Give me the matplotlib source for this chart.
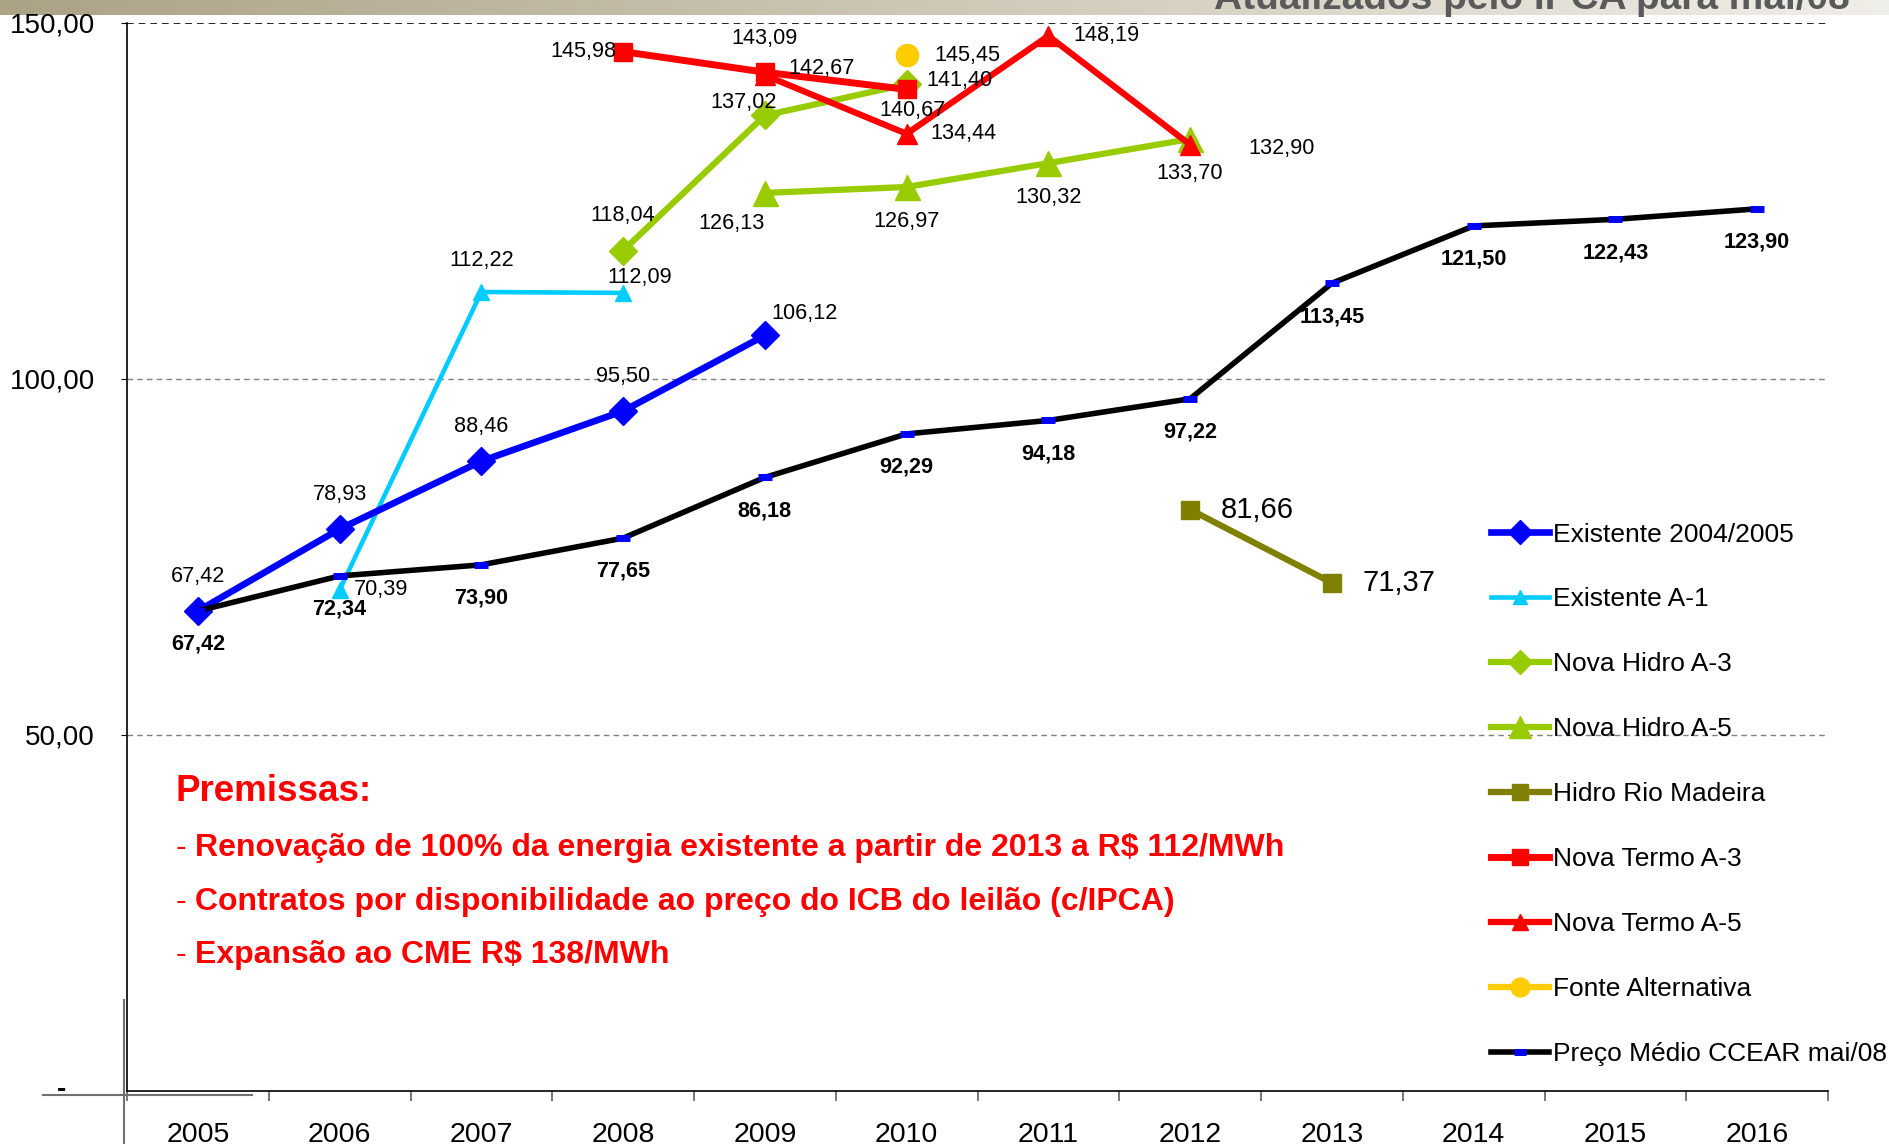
import numpy as np
import matplotlib
matplotlib.use("Agg")
import matplotlib.pyplot as plt
from matplotlib.lines import Line2D

plt.rcParams["font.family"] = ["Liberation Sans", "DejaVu Sans"]

years = ["2005", "2006", "2007", "2008", "2009", "2010",
         "2011", "2012", "2013", "2014", "2015", "2016"]

exist_0405_yrs = ["2005", "2006", "2007", "2008", "2009"]
exist_0405 = [67.42, 78.93, 88.46, 95.50, 106.12]

exist_a1_yrs = ["2006", "2007", "2008"]
exist_a1 = [70.39, 112.22, 112.09]

hidro_a3_yrs = ["2008", "2009", "2010"]
hidro_a3 = [118.04, 137.02, 141.40]

hidro_a5_yrs = ["2009", "2010", "2011", "2012"]
hidro_a5 = [126.13, 126.97, 130.32, 133.70]

madeira_yrs = ["2012", "2013"]
madeira = [81.66, 71.37]

termo_a3_yrs = ["2008", "2009", "2010"]
termo_a3 = [145.98, 143.09, 140.67]

termo_a5_yrs = ["2009", "2010", "2011", "2012"]
termo_a5 = [142.67, 134.44, 148.19, 132.90]

alt_yrs = ["2010"]
alt = [145.45]

ccear = [67.42, 72.34, 73.90, 77.65, 86.18, 92.29,
         94.18, 97.22, 113.45, 121.50, 122.43, 123.90]

premissas = [
    "Renovação de 100% da energia existente a partir de 2013 a R$ 112/MWh",
    "Contratos por disponibilidade ao preço do ICB do leilão (c/IPCA)",
    "Expansão ao CME R$ 138/MWh",
]


def fmt(v):
    return f"{v:.2f}".replace(".", ",")


def xs(yrs):
    return [years.index(y) for y in yrs]


fig = plt.figure(figsize=(18.89, 11.44), dpi=100)

# header banner with gradient
bax = fig.add_axes([0, 1 - 15 / 1144, 1, 15 / 1144])
grad = np.linspace(0, 1, 256)[None, :]
c0 = np.array([172, 162, 134]) / 255
c1 = np.array([240, 238, 232]) / 255
img = c0[None, None, :] * (1 - grad[..., None]) + c1[None, None, :] * grad[..., None]
bax.imshow(img, aspect="auto", extent=[0, 1, 0, 1])
bax.axis("off")
fig.text(0.979, 1 - 9 / 1144, "Atualizados pelo IPCA para mai/08", ha="right",
         va="baseline", fontsize=28, fontweight="bold", color="#5a5a5a")

ax = fig.add_axes([127 / 1889, 1 - 1091 / 1144, 1701 / 1889, 1068 / 1144])
ax.set_xlim(-0.5, 11.5)
ax.set_ylim(0, 150)

for v in [50, 100]:
    ax.axhline(v, color="#808080", lw=1, ls=(0, (4, 3)), zorder=0)
ax.axhline(150, color="black", lw=1.2, ls=(0, (4, 3)), zorder=0)

ax.plot(xs(exist_0405_yrs), exist_0405, color="#0000FF", lw=4.8, marker="D",
        ms=14.5, label="Existente 2004/2005", zorder=4)
ax.plot(xs(exist_a1_yrs), exist_a1, color="#00CCFF", lw=3.3, marker="^",
        ms=12, label="Existente A-1", zorder=3)
ax.plot(xs(hidro_a3_yrs), hidro_a3, color="#99CC00", lw=4.5, marker="D",
        ms=14, label="Nova Hidro A-3", zorder=3)
ax.plot(xs(hidro_a5_yrs), hidro_a5, color="#99CC00", lw=4.5, marker="^",
        ms=18, label="Nova Hidro A-5", zorder=3)
ax.plot(xs(madeira_yrs), madeira, color="#808000", lw=4.5, marker="s",
        ms=13, label="Hidro Rio Madeira", zorder=3)
ax.plot(xs(termo_a3_yrs), termo_a3, color="#FF0000", lw=5, marker="s",
        ms=13, label="Nova Termo A-3", zorder=5)
ax.plot(xs(termo_a5_yrs), termo_a5, color="#FF0000", lw=4.5, marker="^",
        ms=14, label="Nova Termo A-5", zorder=5)
ax.plot(xs(alt_yrs), alt, color="#FFCC00", lw=4.5, marker="o", ls="-",
        ms=16, label="Fonte Alternativa", zorder=5)
ax.plot(range(len(years)), ccear, color="black", lw=4, marker="_", ms=10,
        mec="#0000FF", mew=5, label="Preço Médio CCEAR mai/08", zorder=4)

lab_kw = dict(textcoords="offset points", fontsize=15.6, va="center", zorder=6)


def label(x, y, dx, dy, ha="center", **kw):
    ax.annotate(fmt(y), (x, y), xytext=(dx, dy), ha=ha, **lab_kw, **kw)


for x, y in zip(xs(exist_0405_yrs)[:-1], exist_0405[:-1]):
    label(x, y, 0, 25)
label(4, exist_0405[-1], 5, 16, ha="left")

label(1, exist_a1[0], 10, 0, ha="left")
label(2, exist_a1[1], 0, 23)
label(3, exist_a1[2], 12, 11)

label(3, hidro_a3[0], 0, 25)
label(4, hidro_a3[1], -15, 9)
label(5, hidro_a3[2], 14, 3, ha="left")

label(4, hidro_a5[0], -24, -22)
for x, y in zip(xs(hidro_a5_yrs)[1:], hidro_a5[1:]):
    label(x, y, 0, -25)

label(3, termo_a3[0], -5, 0, ha="right")
label(4, termo_a3[1], 0, 24)
label(5, termo_a3[2], 4, -15)

label(4, termo_a5[0], 17, 5, ha="left")
label(5, termo_a5[1], 17, 0, ha="left")
label(6, termo_a5[2], 18, 0, ha="left")
label(7, termo_a5[3], 42, -3, ha="left")

label(5, alt[0], 20, 0, ha="left")

for x, y in zip(xs(madeira_yrs), madeira):
    ax.annotate(fmt(y), (x, y), xytext=(22, 0), textcoords="offset points",
                ha="left", va="center", fontsize=21)

for x, y in enumerate(ccear):
    ax.annotate(fmt(y), (x, y), xytext=(0, -24), fontweight="bold", ha="center",
                **lab_kw)

# premissas text block
ax.text(0.0288, 0.2804, "Premissas:", transform=ax.transAxes, color="#FF0000",
        fontsize=26.5, fontweight="bold", va="center")
for i, line in enumerate(premissas):
    yy = 0.2275 - i * 0.0503
    ax.text(0.0288, yy, "-", transform=ax.transAxes, color="#FF0000",
            fontsize=23, va="center")
    ax.text(0.0400, yy, line, transform=ax.transAxes, color="#FF0000",
            fontsize=23, fontweight="bold", va="center")

# axes styling
ax.set_xticks(range(len(years)))
ax.set_xticklabels(years, fontsize=20.5)
ax.set_xticks(np.arange(-0.5, 12, 1), minor=True)
ax.tick_params(axis="x", which="major", length=0, pad=22)
ax.tick_params(axis="x", which="minor", length=7, color="#606060", width=1.2)
ax.set_yticks([50, 100, 150])
ax.set_yticklabels(["50,00", "100,00", "150,00"], fontsize=20)
ax.tick_params(axis="y", length=4, pad=19)
ax.annotate("-", (0, 0), xycoords="axes fraction", xytext=(-44, 1),
            textcoords="offset points", ha="right", va="center", fontsize=20,
            fontweight="bold")
for s in ["top", "right"]:
    ax.spines[s].set_visible(False)
ax.spines["left"].set_linewidth(1.2)
ax.spines["bottom"].set_linewidth(1.2)

# stray guide lines near the origin
fig.add_artist(Line2D([124 / 1889, 124 / 1889], [0, 1 - 1000 / 1144],
                      color="#707070", lw=1.5))
fig.add_artist(Line2D([43 / 1889, 252 / 1889], [1 - 1095 / 1144] * 2,
                      color="#707070", lw=1.5))

leg = ax.legend(loc="upper left",
                bbox_to_anchor=((1480 - 127) / 1701, 1 - (512 - 23) / 1068),
                frameon=False, fontsize=19, handlelength=2.2, handletextpad=0.15,
                labelspacing=1.55, borderaxespad=0, markerscale=0.85)
leg.set_zorder(10)

fig.savefig("out.png", dpi=100)
